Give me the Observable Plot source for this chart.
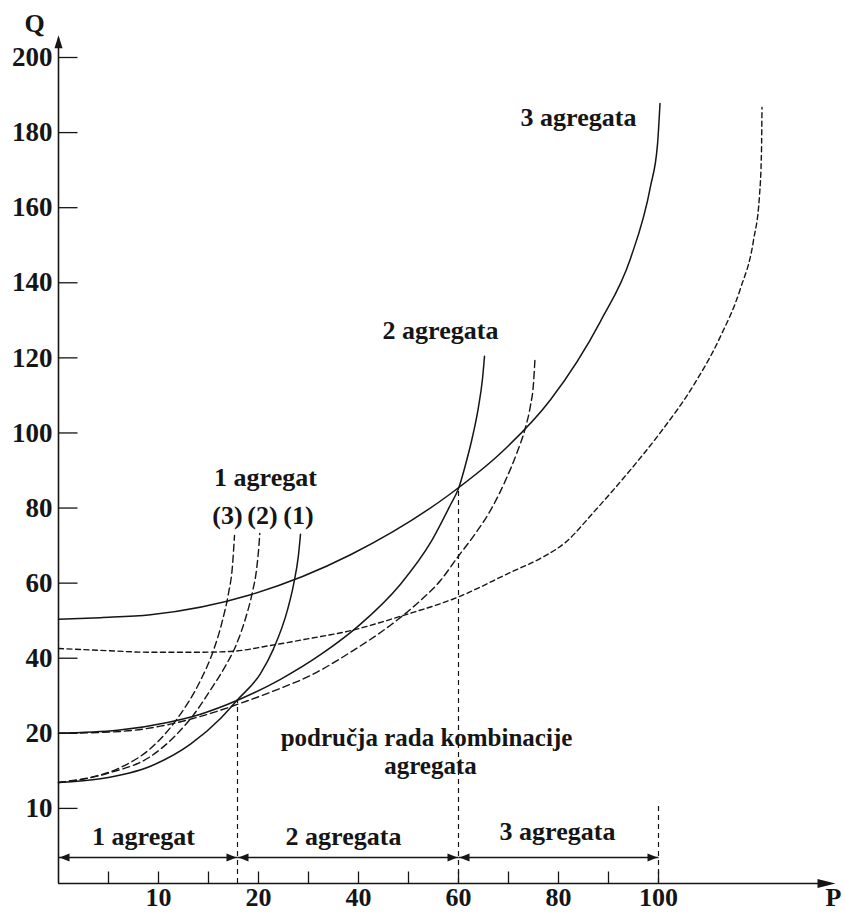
<!DOCTYPE html>
<html>
<head>
<meta charset="utf-8">
<script src="https://cdn.jsdelivr.net/npm/d3@7"></script>
<script src="https://cdn.jsdelivr.net/npm/@observablehq/plot@0.6"></script>
<style>
  html, body { margin: 0; padding: 0; background: #fff; overflow: hidden; }
</style>
</head>
<body>
<div id="chart"></div>
<script>
// ---- scale breakpoints (axis is drawn with equal spacing between these values) ----
const xDomain = [0, 10, 20, 40, 60, 80, 100, 120];
const yDomain = [0, 10, 20, 40, 60, 80, 100, 120, 140, 160, 180, 200];

// ---- tick labels ----
const xTickLabels = [10, 20, 40, 60, 80, 100];
const xTickMarks = [5, 10, 15, 20, 30, 40, 50, 60, 70, 80, 90, 100];
const yTickLabels = [10, 20, 40, 60, 80, 100, 120, 140, 160, 180, 200];
const xAxisEnd = 135.4;   // P where the arrow of the P axis ends
const yAxisEnd = 205.9;   // Q where the arrow of the Q axis ends

// ---- curves (P, Q) ----
const agg3SolidP = [0, 4.2, 9.2, 19.2, 38.4, 58.4, 68.4, 78.4, 88.4, 94.4, 98.4, 99.8, 100.3];
const agg3SolidQ = [50.36, 50.81, 51.58, 56.91, 67.56, 83.81, 94.59, 108.84, 129.74, 146.49, 165.67, 176.85, 187.77];

const agg2SolidP = [0, 5.9, 10.9, 14.2, 17.9, 24.4, 32.4, 40.4, 48.4, 54.4, 58.4, 60, 61.4, 62.8, 64, 64.8, 65.2];
const agg2SolidQ = [20, 20.8, 22.9, 25.1, 28.8, 34.38, 40.93, 49.08, 59.73, 70.76, 80.88, 85.2, 91.53, 98.98, 106.97, 114.43, 120.4];

const agg1SolidP = [0, 4.2, 9.2, 13.2, 16.2, 17.9, 20.4, 23, 25.8, 27, 28, 28.4];
const agg1SolidQ = [13.45, 13.95, 15.62, 18.55, 23.94, 28.92, 35.92, 42.5, 52.89, 59.55, 67.53, 72.99];

const agg1Dash3P = [0, 3.2, 6.2, 9.2, 11.9, 14.2, 15.5, 16.4, 17, 17.4, 17.6];
const agg1Dash3Q = [13.45, 14.1, 15.45, 17.98, 24.0, 34.1, 42.1, 50.1, 57.3, 64.7, 72.7];

const agg1Dash2P = [0, 5.2, 9.2, 11.7, 13.5, 15.2, 16.7, 17.7, 18.7, 19.4, 19.8, 20.1, 20.26];
const agg1Dash2Q = [13.45, 14.78, 16.91, 19.71, 24.9, 31.56, 37.95, 43.14, 50.59, 57.68, 63.54, 70.19, 73.25];

const agg2DashP = [0, 6.2, 10.2, 14.2, 18.2, 24.4, 30.4, 38.4, 46.4, 52.4, 56.4, 59.8, 63.4, 66.4, 69.4, 71.8, 73.4, 74.4, 75, 75.3];
const agg2DashQ = [20, 20.5, 21.9, 24.5, 28.0, 32.0, 35.4, 41.6, 48.8, 55.4, 60.7, 66.87, 73.26, 79.38, 87.37, 95.1, 101.49, 107.35, 113.2, 119.86];

const agg3DashP = [0, 4.2, 9.2, 14.2, 17.2, 22.4, 30.4, 37.8, 49, 59.8, 70.4, 76.4, 81.4, 87, 93.8, 100.4, 107, 112.4, 116.4, 119, 120.2, 120.6, 120.7];
const agg3DashQ = [42.6, 42.1, 41.6, 41.6, 41.8, 43.4, 45.3, 47.16, 51.42, 56.22, 62.87, 66.6, 70.86, 78.85, 89.24, 100.16, 112.67, 125.72, 138.5, 151.29, 163.27, 175.25, 186.71];

// ---- operating regions ----
const dividerP = [17.9, 60, 100];
const dividerTopQ = [28.8, 85, 10.3];
const regionStart = [0, 17.9, 60];
const regionEnd = [17.9, 60, 100];
const regionLabels = ["1 agregat", "2 agregata", "3 agregata"];
const regionLabelP = [8.5, 37, 79.8];
const regionLabelQ = [6.3, 6.2, 6.9];
const regionArrowQ = 3.46;

// ---- annotations ----
const noteTexts = ["3 agregata", "2 agregata", "1 agregat", "(3)", "(2)", "(1)", "područja rada kombinacije", "agregata"];
const noteP = [84, 56.4, 21.4, 16.9, 20.8, 28, 53.6, 54.4];
const noteQ = [184, 127.3, 88.2, 78.05, 78.05, 78.05, 19.4, 15.6];
const noteSize = [26, 26, 26, 26, 26, 26, 25, 25];

// ---- build tables ----
const rows = (name, P, Q) => P.map((p, i) => ({series: name, P: p, Q: Q[i]}));
const solidRows = [
  ...rows("3 agregata", agg3SolidP, agg3SolidQ),
  ...rows("2 agregata", agg2SolidP, agg2SolidQ),
  ...rows("1 agregat (1)", agg1SolidP, agg1SolidQ)
];
const dashedRows = [
  ...rows("1 agregat (3)", agg1Dash3P, agg1Dash3Q),
  ...rows("1 agregat (2)", agg1Dash2P, agg1Dash2Q),
  ...rows("2 agregata", agg2DashP, agg2DashQ)
];
const dashed3Rows = rows("3 agregata", agg3DashP, agg3DashQ);

// custom symbols
const tickUp = {draw(ctx) { ctx.moveTo(0, 0); ctx.lineTo(0, -12); }};
const tickRight = {draw(ctx) { ctx.moveTo(0, 0); ctx.lineTo(19, 0); }};
const head = (len, wid) => ({draw(ctx) { ctx.moveTo(0, 0); ctx.lineTo(-wid / 2, len); ctx.lineTo(wid / 2, len); ctx.closePath(); }});
const smallHead = head(10, 8);

const ink = "#151515";
const idx = d3.range(3);
const curve = "monotone-x";

const chart = Plot.plot({
  width: 845,
  height: 913,
  marginLeft: 58,
  marginRight: 87,
  marginTop: 57,
  marginBottom: 30,
  x: {type: "linear", domain: xDomain, axis: null},
  y: {type: "linear", domain: yDomain, axis: null},
  style: {
    fontFamily: "'Liberation Serif', 'Times New Roman', serif",
    fontWeight: "bold",
    fontSize: "26px",
    color: ink,
    background: "#fff",
    overflow: "visible"
  },
  marks: [
    // vertical dashed dividers
    Plot.ruleX(idx, {x: i => dividerP[i], y1: 0, y2: i => dividerTopQ[i], stroke: ink, strokeWidth: 1.2, strokeDasharray: "5,4"}),
    // curves
    Plot.line(solidRows, {x: "P", y: "Q", z: "series", curve, stroke: ink, strokeWidth: 1.5}),
    Plot.line(dashedRows, {x: "P", y: "Q", z: "series", curve, stroke: ink, strokeWidth: 1.4, strokeDasharray: "7,4"}),
    Plot.line(dashed3Rows, {x: "P", y: "Q", curve, stroke: ink, strokeWidth: 1.4, strokeDasharray: "5,3.5"}),
    // axes
    Plot.ruleY([0], {x1: 0, x2: xAxisEnd - 3, stroke: ink, strokeWidth: 1.6}),
    Plot.ruleX([0], {y1: 0, y2: yAxisEnd - 1, stroke: ink, strokeWidth: 1.6}),
    Plot.dot([xAxisEnd], {x: d => d, y: 0, symbol: head(18, 9), rotate: 90, fill: ink, stroke: "none"}),
    Plot.dot([yAxisEnd], {x: 0, y: d => d, symbol: head(13, 8), rotate: 0, fill: ink, stroke: "none"}),
    Plot.dot(xTickMarks, {x: d => d, y: 0, symbol: tickUp, fill: "none", stroke: ink, strokeWidth: 1.3}),
    Plot.dot(yTickLabels, {x: 0, y: d => d, symbol: tickRight, fill: "none", stroke: ink, strokeWidth: 1.3}),
    Plot.text(xTickLabels, {x: d => d, y: 0, dy: 14, text: d => String(d), fill: ink, fontSize: 26}),
    Plot.text(yTickLabels, {x: 0, y: d => d, dx: -6, text: d => String(d), textAnchor: "end", fill: ink, fontSize: 27}),
    Plot.text(["P"], {x: xAxisEnd, y: 0, dy: 14, dx: -2, text: d => d, fill: ink, fontSize: 26}),
    Plot.text(["Q"], {x: 0, y: yAxisEnd, dx: -24, dy: -12, text: d => d, fill: ink, fontSize: 26}),
    // region arrows
    Plot.link(idx, {x1: i => regionStart[i], x2: i => regionEnd[i], y1: regionArrowQ, y2: regionArrowQ, stroke: ink, strokeWidth: 1.4}),
    Plot.dot(idx, {x: i => regionStart[i], y: regionArrowQ, symbol: smallHead, rotate: -90, dx: 1, fill: ink, stroke: "none"}),
    Plot.dot(idx, {x: i => regionEnd[i], y: regionArrowQ, symbol: smallHead, rotate: 90, dx: -1, fill: ink, stroke: "none"}),
    Plot.text(idx, {x: i => regionLabelP[i], y: i => regionLabelQ[i], text: i => regionLabels[i], fill: ink}),
    // annotations
    Plot.text(d3.range(noteTexts.length), {x: i => noteP[i], y: i => noteQ[i], text: i => noteTexts[i], fontSize: i => noteSize[i], fill: ink})
  ]
});
document.getElementById("chart").appendChild(chart);
</script>
</body>
</html>
